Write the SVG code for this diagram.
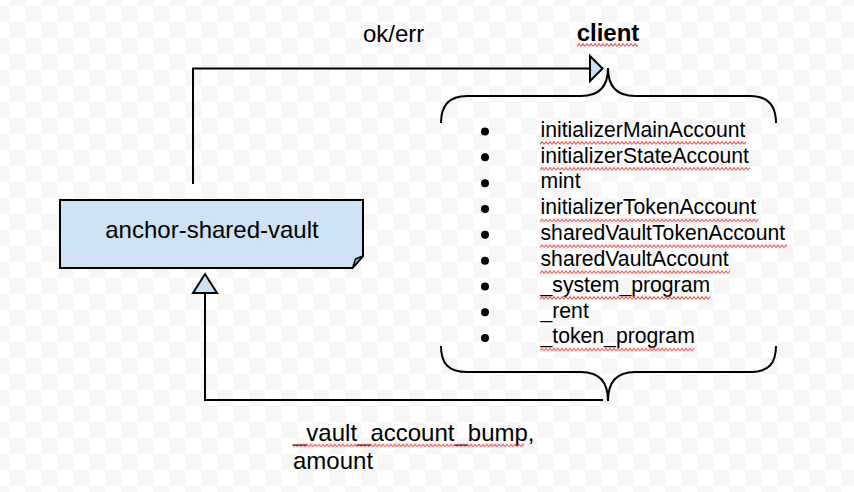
<svg xmlns="http://www.w3.org/2000/svg" width="854" height="492" viewBox="0 0 854 492">
<style>
  .t { font-family: "Liberation Sans", Arial, sans-serif; fill: #000; }
  .line { fill: none; stroke: #000; stroke-width: 2; }
  .arrow { fill: #cfe2f3; stroke: #000; stroke-width: 2; stroke-linejoin: miter; }
  .sq { fill: url(#squig); }
</style>
<defs>
  <pattern id="bg" x="9" y="6" width="32" height="32" patternUnits="userSpaceOnUse">
    <rect width="32" height="32" fill="#ffffff"/>
    <rect x="16" y="0" width="16" height="16" fill="#f6f6f6"/>
    <rect x="0" y="16" width="16" height="16" fill="#f6f6f6"/>
  </pattern>
  <pattern id="squig" x="0" y="0" width="4" height="4" patternUnits="userSpaceOnUse">
    <polyline points="0,3.3 2,0.7 4,3.3" fill="none" stroke="#e05a5a" stroke-width="1.1"/>
  </pattern>
</defs>
<rect width="854" height="492" fill="url(#bg)"/>

<g id="connectors">
  <path class="line" d="M193,184 V68.5 H590"/>
  <polygon class="arrow" points="590,56 602.5,68.5 590,81"/>
  <path class="line" d="M603,400 H205 V293"/>
  <polygon class="arrow" points="193,293 205,274 217,293"/>
  <text class="t" x="363" y="42" font-size="24">ok/err</text>
  <text class="t" x="293" y="441" font-size="24">_vault_account_bump,</text>
  <text class="t" x="293" y="468.5" font-size="24">amount</text>
  <rect class="sq" x="0" y="0" width="231" height="4" transform="translate(293,443.5)"/>
</g>

<g id="vault">
  <path d="M60,200 H363 V256 L352.5,268 H60 Z" fill="#cfe2f3" stroke="#000" stroke-width="2" stroke-linejoin="miter"/>
  <polygon points="352.5,268 355.5,259 363,256" fill="#a3afbb" stroke="#000" stroke-width="1.5" stroke-linejoin="round"/>
  <text class="t" x="212" y="237.5" font-size="24" text-anchor="middle">anchor-shared-vault</text>
</g>

<g id="client">
  <text class="t" x="608" y="41" font-size="24" font-weight="bold" text-anchor="middle">client</text>
  <rect class="sq" x="0" y="0" width="61" height="4" transform="translate(577,43)"/>
  <path class="line" d="M441,123 C441,105 449,96 467,96 L581,96 Q608,96 608,68 Q608,96 635,96 L750,96 C768,96 776,105 776,123"/>
  <path class="line" d="M441,346 C441,364 449,372 467,372 L581,372 Q608,372 608,401 Q608,372 635,372 L750,372 C768,372 776,364 776,346"/>
  <g fill="#000">
    <circle cx="485" cy="131.5" r="4"/>
    <circle cx="485" cy="157.3" r="4"/>
    <circle cx="485" cy="183.2" r="4"/>
    <circle cx="485" cy="209" r="4"/>
    <circle cx="485" cy="234.8" r="4"/>
    <circle cx="485" cy="260.7" r="4"/>
    <circle cx="485" cy="286.5" r="4"/>
    <circle cx="485" cy="312.3" r="4"/>
    <circle cx="485" cy="338.1" r="4"/>
  </g>
  <g font-size="21.2">
    <text class="t" x="540.5" y="136.7">initializerMainAccount</text>
    <text class="t" x="540.5" y="162.5">initializerStateAccount</text>
    <text class="t" x="540.5" y="188.4">mint</text>
    <text class="t" x="540.5" y="214.2">initializerTokenAccount</text>
    <text class="t" x="540.5" y="240">sharedVaultTokenAccount</text>
    <text class="t" x="540.5" y="265.9">sharedVaultAccount</text>
    <text class="t" x="540.5" y="291.7">_system_program</text>
    <text class="t" x="540.5" y="317.5">_rent</text>
    <text class="t" x="540.5" y="343.3">_token_program</text>
  </g>
  <rect class="sq" x="0" y="0" width="206" height="4" transform="translate(540,141)"/>
  <rect class="sq" x="0" y="0" width="210" height="4" transform="translate(540,166.8)"/>
  <rect class="sq" x="0" y="0" width="218" height="4" transform="translate(540,218.5)"/>
  <rect class="sq" x="0" y="0" width="247" height="4" transform="translate(540,244.3)"/>
  <rect class="sq" x="0" y="0" width="190" height="4" transform="translate(540,270.2)"/>
  <rect class="sq" x="0" y="0" width="170" height="4" transform="translate(540,296)"/>
  <rect class="sq" x="0" y="0" width="154" height="4" transform="translate(540,347.6)"/>
</g>
</svg>
